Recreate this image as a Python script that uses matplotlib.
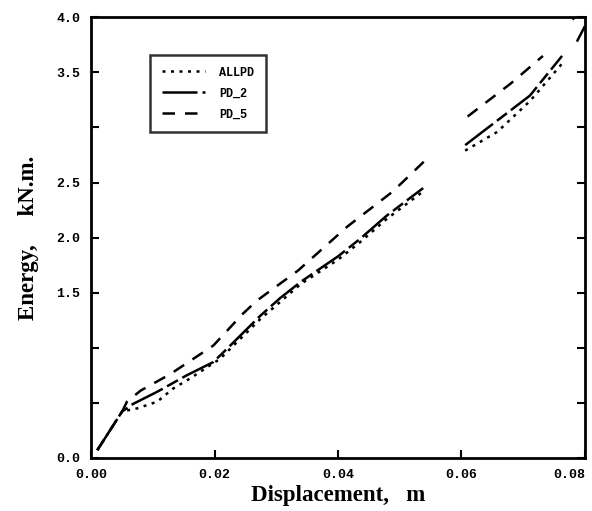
import numpy as np
import matplotlib.pyplot as plt

# Data (displacement in m, energy in kN.m)
x_allpd = [0.001, 0.005, 0.0075, 0.0107, 0.0133, 0.0160, 0.0209, 0.0274, 0.0340, 0.0400,
           0.0436, 0.0479, 0.0538, np.nan, 0.0606, 0.0658, 0.0711, 0.0763]
y_allpd = [0.07, 0.42, 0.45, 0.51, 0.63, 0.72, 0.90, 1.26, 1.58, 1.80,
           1.96, 2.17, 2.42, np.nan, 2.79, 2.96, 3.24, 3.58]

x_pd2 = [0.001, 0.005, 0.0068, 0.0107, 0.0155, 0.0198, 0.0220, 0.0274, 0.0306, 0.0340,
         0.0400, 0.0436, 0.0479, 0.0538, np.nan, 0.0606, 0.0662, 0.0711, 0.0763,
         np.nan, 0.0787, 0.0800]
y_pd2 = [0.07, 0.42, 0.49, 0.60, 0.75, 0.87, 0.99, 1.29, 1.45, 1.60,
         1.83, 1.99, 2.20, 2.45, np.nan, 2.84, 3.08, 3.29, 3.65,
         np.nan, 3.78, 3.92]

x_pd5 = [0.001, 0.005, 0.0058, 0.0080, 0.0128, 0.0198, 0.0246, 0.0269, 0.0335, 0.0371,
         0.0415, 0.0489, 0.0541, np.nan, 0.0610, 0.0680, 0.0732, np.nan, 0.0780, 0.0800]
y_pd5 = [0.07, 0.42, 0.51, 0.61, 0.76, 1.02, 1.31, 1.43, 1.70, 1.88,
         2.10, 2.42, 2.70, np.nan, 3.10, 3.40, 3.65, np.nan, 3.98, 4.10]

xticks = [0.00, 0.02, 0.04, 0.06, 0.08]
xtick_labels = ['0.00', '0.02', '0.04', '0.06', '0.08']
yticks = [0.0, 0.5, 1.0, 1.5, 2.0, 2.5, 3.0, 3.5, 4.0]
ytick_labels = ['0.0', '', '', '1.5', '2.0', '2.5', '', '3.5', '4.0']

fig = plt.figure(figsize=(5.92, 5.11), dpi=100)
ax = fig.add_axes([0.154, 0.104, 0.834, 0.862])

ax.plot(x_allpd, y_allpd, color='black', lw=1.8, linestyle=(0, (1.2, 2.2)), label='ALLPD')
ax.plot(x_pd2, y_pd2, color='black', lw=1.8, linestyle=(0, (14, 2, 5, 2)), label='PD_2')
ax.plot(x_pd5, y_pd5, color='black', lw=1.8, linestyle=(0, (5, 4)), label='PD_5')

ax.set_xlim(0, 0.08)
ax.set_ylim(0, 4.0)
ax.set_xticks(xticks)
ax.set_xticklabels(xtick_labels)
ax.set_yticks(yticks)
ax.set_yticklabels(ytick_labels)

mono = {'family': 'Liberation Mono', 'weight': 'bold', 'size': 9.5}
for lab in ax.get_xticklabels() + ax.get_yticklabels():
    lab.set_fontproperties(mono)

# last x label sits at the figure edge, keep it inside
ax.get_xticklabels()[-1].set_horizontalalignment('right')

ax.tick_params(direction='in', length=6, width=1.5, right=True, top=False, pad=8)
for sp in ax.spines.values():
    sp.set_linewidth(2)

ax.set_xlabel('Displacement,   m', family='Liberation Serif', weight='bold', fontsize=16.5, labelpad=3)
ax.set_ylabel('Energy,     kN.m.', family='Liberation Serif', weight='bold', fontsize=16.5, labelpad=12)

leg = ax.legend(loc='upper left', bbox_to_anchor=(0.12, 0.915), frameon=True, fancybox=False,
                edgecolor='black', handlelength=3.6, borderpad=1.0, labelspacing=0.75,
                handletextpad=1.2, borderaxespad=0,
                prop={'family': 'Liberation Mono', 'weight': 'bold', 'size': 8.5})
leg.get_frame().set_linewidth(1.8)

plt.savefig('out.png', dpi=100)
